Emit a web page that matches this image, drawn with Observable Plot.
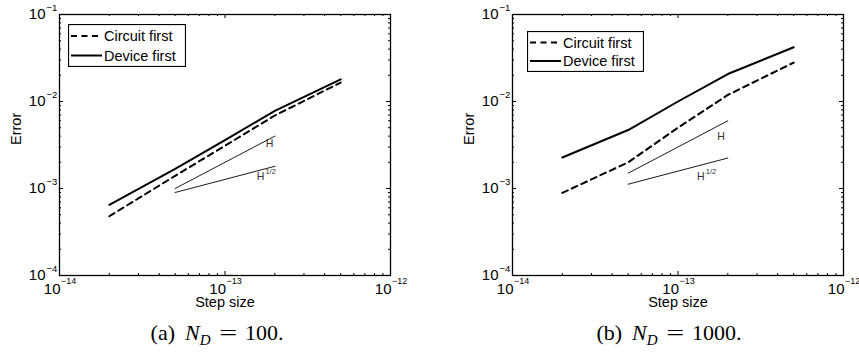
<!DOCTYPE html>
<html>
<head>
<meta charset="utf-8">
<script src="https://cdn.jsdelivr.net/npm/d3@7"></script>
<script src="https://cdn.jsdelivr.net/npm/@observablehq/plot@0.6"></script>
<style>
  body { margin: 0; background: #fff; }
  #wrap { position: relative; width: 859px; height: 352px; overflow: hidden; background: #fff; font-family: "Liberation Sans", Arial, sans-serif; }
  .panel { position: absolute; top: 0; }
  .legend { position: absolute; }
  .caption { position: absolute; top: 320px; width: 300px; text-align: center; white-space: nowrap; font-family: "Liberation Serif", "DejaVu Serif", serif; font-size: 22px; color: #000; }
  .caption span { display: inline-block; }
  .caption sub { font-size: 15px; vertical-align: -5px; line-height: 0; }
  .caption .eq { transform: scaleX(1.45); }
</style>
</head>
<body>
<div id="wrap"></div>
<script>
// ---------- data ----------
const stepSizes = [2e-14, 5e-14, 1e-13, 2e-13, 5e-13];
const circuitA = [4.8e-4, 1.4e-3, 3.1e-3, 6.9e-3, 1.65e-2];
const deviceA  = [6.5e-4, 1.68e-3, 3.6e-3, 7.8e-3, 1.8e-2];
const circuitB = [8.9e-4, 2.0e-3, 5.0e-3, 1.19e-2, 2.8e-2];
const deviceB  = [2.27e-3, 4.7e-3, 1.0e-2, 2.07e-2, 4.2e-2];

const refX  = [5e-14, 2e-13];
const slopeHA    = [1.0e-3, 4.0e-3];
const slopeHalfA = [9.0e-4, 1.8e-3];
const slopeHB    = [1.5e-3, 6.0e-3];
const slopeHalfB = [1.12e-3, 2.24e-3];

// annotation anchors (data coordinates: right edge of the "H")
const labelHA    = {x: 1.96e-13, y: 3.29e-3};
const labelHalfA = {x: 1.73e-13, y: 1.37e-3};
const labelHB    = {x: 1.92e-13, y: 3.96e-3};
const labelHalfB = {x: 1.45e-13, y: 1.37e-3};

const seriesNames = ["Circuit first", "Device first"];
const xTicks = [1e-14, 1e-13, 1e-12];
const xTickExp = ["−14", "−13", "−12"];
const yTicks = [1e-4, 1e-3, 1e-2, 1e-1];
const yTickExp = ["−4", "−3", "−2", "−1"];
const xLabel = "Step size";
const yLabel = "Error";
const captionTags = ["(a)", "(b)"];
const captionValues = ["100.", "1000."];

// ---------- helpers ----------
function minorTicks(major) {
  const out = [];
  for (let i = 0; i < major.length - 1; i++)
    for (let k = 2; k <= 9; k++) out.push(major[i] * k);
  return out;
}
const xMinor = minorTicks(xTicks);
const yMinor = minorTicks(yTicks);

const FONT = "'Liberation Sans', Arial, sans-serif";

function panel({width, marginLeft, marginRight, circuit, device, h, half, labH, labHalf}) {
  const height = 318, marginTop = 14, marginBottom = 43;
  const plotH = height - marginTop - marginBottom;
  const plotW = width - marginLeft - marginRight;
  const rows = (ys) => stepSizes.map((x, i) => ({x, y: ys[i]}));
  const refRows = (ys) => refX.map((x, i) => ({x, y: ys[i]}));
  const xi = xTicks.map((d, i) => ({v: d, e: xTickExp[i]}));
  const yi = yTicks.map((d, i) => ({v: d, e: yTickExp[i]}));
  const t = {fill: "#000", fontFamily: FONT};
  return Plot.plot({
    width, height, marginLeft, marginRight, marginTop, marginBottom,
    style: "font-family: 'Liberation Sans', Arial, sans-serif; background: transparent; overflow: visible;",
    x: {type: "log", domain: [1e-14, 1e-12], axis: null},
    y: {type: "log", domain: [1e-4, 1e-1], axis: null},
    marks: [
      // ticks (inside, all four sides)
      Plot.ruleX(xMinor, {x: d => d, insetTop: plotH - 2, stroke: "#000"}),
      Plot.ruleX(xMinor, {x: d => d, insetBottom: plotH - 2, stroke: "#000"}),
      Plot.ruleX(xTicks, {x: d => d, insetTop: plotH - 4, stroke: "#000"}),
      Plot.ruleX(xTicks, {x: d => d, insetBottom: plotH - 4, stroke: "#000"}),
      Plot.ruleY(yMinor, {y: d => d, insetRight: plotW - 2, stroke: "#000"}),
      Plot.ruleY(yMinor, {y: d => d, insetLeft: plotW - 2, stroke: "#000"}),
      Plot.ruleY(yTicks, {y: d => d, insetRight: plotW - 4, stroke: "#000"}),
      Plot.ruleY(yTicks, {y: d => d, insetLeft: plotW - 4, stroke: "#000"}),
      Plot.frame({stroke: "#000", strokeWidth: 1.3}),
      // tick labels
      Plot.text(xi, {...t, x: "v", frameAnchor: "bottom", text: () => "10", textAnchor: "end", dx: 1, dy: 18.5, fontSize: 15}),
      Plot.text(xi, {...t, x: "v", frameAnchor: "bottom", text: "e", textAnchor: "start", dx: 1.5, dy: 8.5, fontSize: 9}),
      Plot.text(yi, {...t, y: "v", frameAnchor: "left", text: () => "10", textAnchor: "end", dx: -14, dy: 0, fontSize: 15}),
      Plot.text(yi, {...t, y: "v", frameAnchor: "left", text: "e", textAnchor: "start", dx: -13, dy: -7, fontSize: 9.5}),
      // axis titles
      Plot.text([xLabel], {...t, frameAnchor: "bottom", text: d => d, dy: 31, fontSize: 14.5}),
      Plot.text([yLabel], {...t, frameAnchor: "left", text: d => d, rotate: -90, dx: -43, fontSize: 14.5}),
      // reference slopes
      Plot.line(refRows(h), {x: "x", y: "y", stroke: "#000", strokeWidth: 0.9}),
      Plot.line(refRows(half), {x: "x", y: "y", stroke: "#000", strokeWidth: 0.9}),
      Plot.text([labH], {...t, fill: "#333", x: "x", y: "y", text: () => "H", textAnchor: "end", fontSize: 10.5}),
      Plot.text([labHalf], {...t, fill: "#333", x: "x", y: "y", text: () => "H", textAnchor: "end", fontSize: 10.5}),
      Plot.text([labHalf], {...t, fill: "#333", x: "x", y: "y", text: () => "1/2", textAnchor: "start", dx: 1, dy: -5.5, fontSize: 7.5}),
      // data
      Plot.line(rows(circuit), {x: "x", y: "y", stroke: "#000", strokeWidth: 2, strokeDasharray: "6,4.5"}),
      Plot.line(rows(device), {x: "x", y: "y", stroke: "#000", strokeWidth: 2})
    ]
  });
}

function legend(left, top, w, h, rowYs) {
  const svg = d3.create("svg").attr("class", "legend").attr("width", w).attr("height", h)
    .style("left", left + "px").style("top", top + "px");
  svg.append("rect").attr("x", 0.5).attr("y", 0.5).attr("width", w - 1).attr("height", h - 1)
    .attr("fill", "#fff").attr("stroke", "#000").attr("stroke-width", 1.2);
  seriesNames.forEach((name, i) => {
    svg.append("line").attr("x1", 3).attr("x2", 34).attr("y1", rowYs[i]).attr("y2", rowYs[i])
      .attr("stroke", "#000").attr("stroke-width", 2)
      .attr("stroke-dasharray", i === 0 ? "6,4.5" : null);
    svg.append("text").attr("x", 36).attr("y", rowYs[i]).attr("dy", "0.35em")
      .style("font-family", FONT).attr("font-size", 14.5).attr("fill", "#000").text(name);
  });
  return svg.node();
}

const wrap = document.getElementById("wrap");

const pa = panel({width: 430, marginLeft: 59, marginRight: 40, circuit: circuitA, device: deviceA,
  h: slopeHA, half: slopeHalfA, labH: labelHA, labHalf: labelHalfA});
const da = document.createElement("div"); da.className = "panel"; da.style.left = "0px"; da.appendChild(pa);
wrap.appendChild(da);

const pb = panel({width: 429, marginLeft: 82, marginRight: 16, circuit: circuitB, device: deviceB,
  h: slopeHB, half: slopeHalfB, labH: labelHB, labHalf: labelHalfB});
const db = document.createElement("div"); db.className = "panel"; db.style.left = "430px"; db.appendChild(pb);
wrap.appendChild(db);

wrap.appendChild(legend(68, 24, 118, 43, [12, 31.5]));
wrap.appendChild(legend(527, 31, 117, 41, [11.5, 30]));

[[217, 0], [669, 1]].forEach(([cx, i]) => {
  const c = document.createElement("div");
  c.className = "caption";
  c.style.left = (cx - 150) + "px";
  c.innerHTML = `<span>${captionTags[i]}</span><span style="margin-left:10px"><i>N</i><sub><i>D</i></sub></span><span class="eq" style="margin-left:11px">=</span><span style="margin-left:11px">${captionValues[i]}</span>`;
  wrap.appendChild(c);
});
</script>
</body>
</html>
